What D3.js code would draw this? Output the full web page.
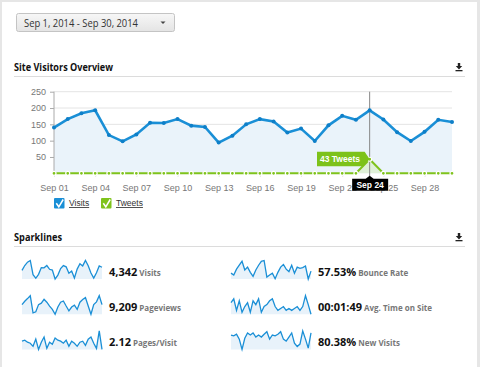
<!DOCTYPE html>
<meta charset="utf-8">
<style>
  body { margin: 0; background: #e6e6e6; }
  svg { display: block; }
  .ui { font-family: "Open Sans", sans-serif; }
  .axis text { font-family: "Liberation Sans", Arial, sans-serif; font-size: 9px; fill: #777; }
  .axis path, .axis line { stroke: #aaa; }
  .grid line { stroke: #e4e4e4; }
  .spark-line { fill: none; stroke: #1a8fd6; stroke-width: 1.3px; }
  .spark-area { fill: #e8f2fa; }
</style>
<body>
<script src="https://cdnjs.cloudflare.com/ajax/libs/d3/7.8.5/d3.min.js"></script>
<script>

var days = d3.range(1, 31);
var dateRange = "Sep 1, 2014 - Sep 30, 2014";
var yTicks = [50, 100, 150, 200, 250];
var xTickDays = [1, 4, 7, 10, 13, 16, 19, 22, 25, 28];

// daily visits and tweets for September
var visits = [140, 166, 184, 193, 117, 98, 119, 155, 154, 166,
              146, 142, 94, 115, 150, 166, 159, 125, 137, 99,
              147, 176, 164, 193, 165, 126, 99, 127, 164, 157];
var tweets = [0, 0, 0, 0, 0, 0, 0, 0, 0, 0,
              0, 0, 0, 0, 0, 0, 0, 0, 0, 0,
              0, 0, 0, 43, 0, 0, 0, 0, 0, 0];
var hoverDay = 24;

// sparkline series
var pageviews = [307, 342, 370, 400, 222, 232, 307, 322, 362, 332,
                 292, 257, 207, 282, 332, 345, 292, 242, 282, 302,
                 257, 332, 360, 380, 292, 207, 307, 336, 400, 307];
var pagesPerVisit = [2.13, 2.14, 2.12, 2.11, 2.08, 2.15, 2.05, 2.12, 2.17, 2.06,
                     2.12, 2.10, 2.16, 2.14, 2.13, 2.11, 2.14, 2.08, 2.13, 2.11,
                     2.08, 2.12, 2.13, 2.09, 2.15, 2.17, 2.11, 2.06, 2.23, 2.05];
var bounceRate = [55.0, 53.8, 57.5, 60.0, 62.5, 57.0, 58.8, 55.5, 53.0, 57.0,
                  60.0, 62.5, 63.0, 52.5, 53.8, 55.0, 51.5, 55.5, 58.8, 60.5,
                  57.5, 56.0, 60.0, 55.0, 58.8, 58.0, 58.5, 59.5, 51.3, 56.3];
var avgTime = [121, 133, 97, 127, 91, 109, 121, 91, 127, 115,
               133, 91, 109, 115, 127, 133, 109, 97, 103, 109,
               97, 103, 97, 103, 109, 97, 109, 143, 115, 85];
var newVisits = [82.0, 81.6, 82.4, 80.0, 75.0, 80.4, 83.0, 82.0, 83.0, 81.0,
                 82.0, 81.0, 82.4, 83.6, 80.0, 82.0, 81.6, 82.4, 83.6, 80.0,
                 79.0, 81.0, 83.0, 78.0, 76.4, 77.6, 84.0, 80.0, 75.6, 83.0];

var sparkNames = ["Visits", "Pageviews", "Pages/Visit", "Bounce Rate", "Avg. Time on Site", "New Visits"];
var sparkTotals = ["4,342", "9,209", "2.12", "57.53%", "00:01:49", "80.38%"];
var sparkSeries = [visits, pageviews, pagesPerVisit, bounceRate, avgTime, newVisits];

var W = 480, H = 367;

var svg = d3.select("body").append("svg")
  .attr("width", W)
  .attr("height", H);

svg.append("rect")
  .attr("x", 2).attr("y", 2)
  .attr("width", 475).attr("height", H)
  .attr("fill", "#fff");

// date picker
var grad = svg.append("defs").append("linearGradient")
  .attr("id", "btn").attr("x1", 0).attr("x2", 0).attr("y1", 0).attr("y2", 1);
grad.append("stop").attr("offset", "0%").attr("stop-color", "#f7f7f7");
grad.append("stop").attr("offset", "100%").attr("stop-color", "#e4e4e4");

svg.append("rect")
  .attr("x", 16.5).attr("y", 13.5)
  .attr("width", 158).attr("height", 18).attr("rx", 2)
  .attr("fill", "url(#btn)").attr("stroke", "#c4c4c4");
svg.append("text")
  .attr("class", "ui")
  .attr("x", 24).attr("y", 26.5)
  .attr("font-size", 10.2).attr("fill", "#333")
  .attr("textLength", 114).attr("lengthAdjust", "spacingAndGlyphs")
  .text(dateRange);
svg.append("path")
  .attr("d", "M160.5,21.5 h5 l-2.5,2.5 z")
  .attr("fill", "#444");

function sectionHeader(title, y, w) {
  svg.append("text")
    .attr("class", "ui")
    .attr("x", 14).attr("y", y)
    .attr("font-size", 10.5).attr("font-weight", "bold").attr("fill", "#111")
    .attr("textLength", w).attr("lengthAdjust", "spacingAndGlyphs")
    .text(title);
  svg.append("line")
    .attr("x1", 14).attr("x2", 465)
    .attr("y1", y + 5.5).attr("y2", y + 5.5)
    .attr("stroke", "#dcdcdc");
  // download icon
  var g = svg.append("g").attr("transform", "translate(459," + (y - 8) + ")");
  g.append("path").attr("d", "M-1.2,0 h2.4 v3 h2 l-3.2,3.4 l-3.2,-3.4 h2 z").attr("fill", "#222");
  g.append("rect").attr("x", -3.5).attr("y", 7).attr("width", 7).attr("height", 1.3).attr("fill", "#222");
}

sectionHeader("Site Visitors Overview", 71, 99);
sectionHeader("Sparklines", 241, 48);

// main chart
var x = d3.scaleLinear().domain([1, 30]).range([54, 452]);
var y = d3.scaleLinear().domain([0, 250]).range([173.3, 91.7]);

var grid = svg.append("g").attr("class", "grid");
grid.selectAll("line")
  .data(yTicks)
  .enter().append("line")
  .attr("x1", x(1)).attr("x2", x(30))
  .attr("y1", function(d) { return y(d); })
  .attr("y2", function(d) { return y(d); });

var area = d3.area()
  .x(function(d, i) { return x(days[i]); })
  .y0(y(0))
  .y1(function(d) { return y(d); });

var line = d3.line()
  .x(function(d, i) { return x(days[i]); })
  .y(function(d) { return y(d); });

svg.append("path")
  .datum(visits)
  .attr("d", area)
  .attr("fill", "#eaf3fa");

// tweets area highlight under the peak
svg.append("path")
  .datum(tweets)
  .attr("d", area)
  .attr("fill", "#dcefd0")
  .attr("opacity", 0.8);

svg.append("g")
  .attr("class", "axis")
  .attr("transform", "translate(" + x(1) + ",0)")
  .call(d3.axisLeft(y).tickValues(yTicks).tickSize(4).tickSizeOuter(0))
  .call(function(g) { g.select(".domain").attr("d", "M0," + y(250) + "V" + y(0)); })
  .selectAll("text").attr("dx", -1);

svg.append("g")
  .attr("class", "axis")
  .attr("transform", "translate(0," + y(0) + ")")
  .call(d3.axisBottom(x).tickValues(xTickDays).tickSize(3)
    .tickFormat(function(d) { return "Sep " + d3.format("02")(d); }))
  .call(function(g) { g.select(".domain").remove(); })
  .selectAll("text").attr("dy", "1.3em");

// crosshair
var tx = x(hoverDay), ty = y(tweets[hoverDay - 1]);
svg.append("line")
  .attr("x1", tx).attr("x2", tx)
  .attr("y1", y(250)).attr("y2", y(0) + 4)
  .attr("stroke", "#888").attr("stroke-width", 1);

svg.append("path")
  .datum(visits)
  .attr("d", line)
  .attr("fill", "none")
  .attr("stroke", "#1a8fd6")
  .attr("stroke-width", 2.6);

svg.selectAll(".visit-dot")
  .data(visits)
  .enter().append("circle")
  .attr("class", "visit-dot")
  .attr("cx", function(d, i) { return x(days[i]); })
  .attr("cy", function(d) { return y(d); })
  .attr("r", 2)
  .attr("fill", "#0e7fc8");

svg.append("path")
  .datum(tweets)
  .attr("d", line)
  .attr("fill", "none")
  .attr("stroke", "#7fc31c")
  .attr("stroke-width", 2);

svg.selectAll(".tweet-dot")
  .data(tweets)
  .enter().append("circle")
  .attr("class", "tweet-dot")
  .attr("cx", function(d, i) { return x(days[i]); })
  .attr("cy", function(d) { return y(d); })
  .attr("r", 2)
  .attr("fill", "#7fc31c")
  .attr("stroke", "#fff")
  .attr("stroke-width", 1.2);

// tweet tooltip
svg.append("path")
  .attr("d", "M317," + (ty - 7.5) + " H" + (tx - 5) + " L" + tx + "," + ty +
        " L" + (tx - 7) + "," + (ty + 7) + " H317 Z")
  .attr("fill", "#7dc21a");
svg.append("text")
  .attr("x", 340).attr("y", ty + 3)
  .attr("text-anchor", "middle")
  .attr("font-family", "Liberation Sans, Arial, sans-serif")
  .attr("font-size", 8.5).attr("font-weight", "bold").attr("fill", "#fff")
  .text(tweets[hoverDay - 1] + " Tweets");

// date tooltip, covering the tick labels beneath it
var dy0 = y(0) + 2.5;
svg.append("path")
  .attr("d", "M" + (tx - 17.5) + "," + (dy0 + 3) + " H" + (tx - 4) + " L" + tx + "," + dy0 +
        " L" + (tx + 4) + "," + (dy0 + 3) + " H" + (tx + 18.5) + " V" + (dy0 + 15) +
        " H" + (tx - 17.5) + " Z")
  .attr("fill", "#000");
svg.append("text")
  .attr("x", tx + 0.5).attr("y", dy0 + 12.5)
  .attr("text-anchor", "middle")
  .attr("font-family", "Liberation Sans, Arial, sans-serif")
  .attr("font-size", 8.5).attr("font-weight", "bold").attr("fill", "#fff")
  .text("Sep " + hoverDay);

// legend
var legend = svg.selectAll(".legend")
  .data([{ name: "Visits", color: "#1a8fd6", x: 54 }, { name: "Tweets", color: "#7fc31c", x: 101 }])
  .enter().append("g")
  .attr("class", "legend")
  .attr("transform", function(d) { return "translate(" + d.x + ",198)"; });
legend.append("rect")
  .attr("width", 10.5).attr("height", 10.5).attr("rx", 1)
  .attr("fill", function(d) { return d.color; });
legend.append("path")
  .attr("d", "M2.3,5.3 L4.8,8.8 L9.2,1.5")
  .attr("fill", "none").attr("stroke", "#fff").attr("stroke-width", 1.5);
legend.append("text")
  .attr("x", 15).attr("y", 8)
  .attr("font-family", "Liberation Sans, Arial, sans-serif")
  .attr("font-size", 8.5).attr("fill", "#333")
  .attr("text-decoration", "underline")
  .text(function(d) { return d.name; });

// sparklines
var sparkW = 80, sparkH = 20;
var sx = d3.scaleLinear().domain([0, 29]).range([0, sparkW]);

sparkSeries.forEach(function(series, k) {
  var col = Math.floor(k / 3), row = k % 3;
  var gx = col === 0 ? 22 : 231;
  var gy = 259 + row * 35.2;
  var sy = d3.scaleLinear().domain(d3.extent(series)).range([sparkH, 1.5]);
  var g = svg.append("g").attr("transform", "translate(" + gx + "," + gy + ")");

  g.append("path")
    .datum(series)
    .attr("class", "spark-area")
    .attr("d", d3.area()
      .x(function(d, i) { return sx(i); })
      .y0(sparkH)
      .y1(function(d) { return sy(d); }));
  g.append("path")
    .datum(series)
    .attr("class", "spark-line")
    .attr("d", d3.line()
      .x(function(d, i) { return sx(i); })
      .y(function(d) { return sy(d); }));

  var t = g.append("text")
    .attr("class", "ui")
    .attr("x", 87).attr("y", 16.5);
  t.append("tspan")
    .attr("font-size", 11).attr("font-weight", "bold").attr("fill", "#111")
    .text(sparkTotals[k]);
  t.append("tspan")
    .attr("dx", 2)
    .attr("font-size", 8).attr("font-weight", "bold").attr("fill", "#777")
    .text(sparkNames[k]);
});

</script>
</body>
